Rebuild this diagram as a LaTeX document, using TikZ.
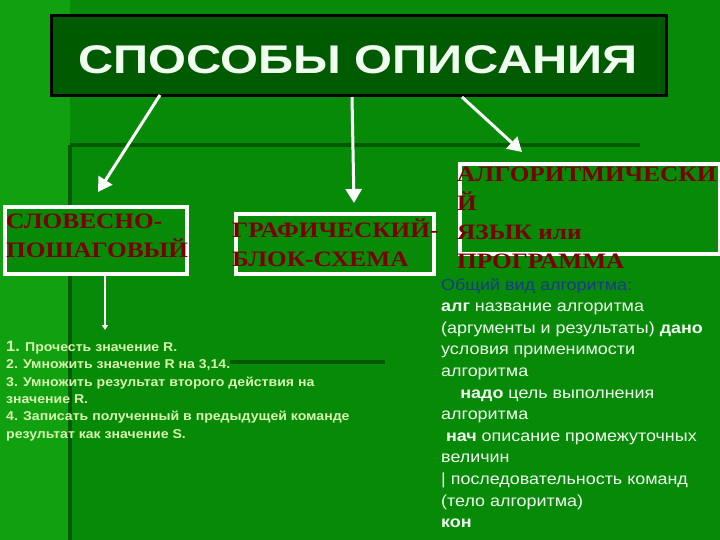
\documentclass[tikz,border=0pt]{standalone}
\usepackage{fontspec}
\setmainfont{Liberation Sans}
\newfontfamily\serifru[FakeStretch=1.15]{Liberation Serif}
\newfontfamily\wideru[FakeStretch=1.22]{Liberation Sans}
\newfontfamily\lsans[FakeStretch=1.1]{Liberation Sans}
\newfontfamily\rsans[FakeStretch=1.12]{Liberation Sans}
\usetikzlibrary{arrows.meta}
\definecolor{bg}{HTML}{078A07}
\definecolor{bgl}{HTML}{10A010}
\definecolor{dk}{HTML}{005A00}
\definecolor{red}{HTML}{7A0000}
\definecolor{lt}{HTML}{D8F5B0}
\definecolor{wt}{HTML}{F0FFF0}
\definecolor{bl}{HTML}{1A3A8A}
\tikzset{
 wbox/.style={draw=white,line width=4pt,fill=bg,inner sep=0pt},
 btxt/.style={text=red,font=\serifru\bfseries\fontsize{22}{29}\selectfont,align=left,anchor=north west,inner sep=0pt},
 warr/.style={draw=white,line width=3pt,-{Triangle[length=14pt,width=16pt]}},
 ltxt/.style={text=lt,font=\lsans\bfseries\fontsize{12.8}{17.3}\selectfont,align=left,anchor=north west,inner sep=0pt},
 rtxt/.style={text=wt,font=\rsans\fontsize{16}{21.6}\selectfont,align=left,anchor=north west,inner sep=0pt},
 dline/.style={draw=dk,line width=4pt}
}
\begin{document}
\begin{tikzpicture}[x=1pt,y=-1pt]
\useasboundingbox (0,0) rectangle (720,540);
\fill[bg] (0,0) rectangle (720,540);
\fill[bgl] (0,0) rectangle (70,540);
\draw[dline] (70,145) -- (640,145);
\draw[dline] (70,145) -- (70,540);
\draw[dline] (230,362) -- (385,362);
% title
\node[draw=black,line width=3pt,fill=dk,minimum width=615pt,minimum height=80pt,anchor=north west] (title) at (50,14) {};
\node[text=wt,font=\wideru\bfseries\fontsize{40}{44}\selectfont] (tt) at (358,60) {СПОСОБЫ ОПИСАНИЯ};
% boxes
\node[wbox,minimum width=182pt,minimum height=67pt,anchor=north west] (b1) at (3,205) {};
\node[btxt] at (6,214) {СЛОВЕСНО-\\ПОШАГОВЫЙ};
\node[wbox,minimum width=198pt,minimum height=60pt,anchor=north west] (b2) at (234,212) {};
\node[btxt] at (232,219) {ГРАФИЧЕСКИЙ-\\БЛОК-СХЕМА};
\node[wbox,minimum width=260pt,minimum height=90pt,anchor=north west] (b3) at (458,162) {};
\node[btxt] at (457,167) {АЛГОРИТМИЧЕСКИ\\Й\\ЯЗЫК или\\ПРОГРАММА};
% arrows
\coordinate (a1s) at (160,95); \coordinate (a1e) at (98,192);
\coordinate (a2s) at (352,97); \coordinate (a2e) at (354,203);
\coordinate (a3s) at (462,97); \coordinate (a3e) at (522,152);
\draw[warr] (a1s) -- (a1e);
\draw[warr] (a2s) -- (a2e);
\draw[warr] (a3s) -- (a3e);
\coordinate (d1) at (105,275); \coordinate (d2) at (105,330);
\draw[white,line width=1.5pt,-{Triangle[length=5pt,width=6pt]}] (d1) -- (d2);
% left text
\node[ltxt] (lt) at (6,341) {{\fontsize{15}{17}\selectfont 1.} Прочесть значение R.\\2. Умножить значение R на 3,14.\\3. Умножить результат второго действия на\\значение R.\\4. Записать полученный в предыдущей команде\\результат как значение S.};
% right text
\node[rtxt] (rt) at (441,278) {\textcolor{bl}{Общий вид алгоритма:}\\\textbf{алг} название алгоритма\\(аргументы и результаты) \textbf{дано}\\условия применимости\\алгоритма\\\hspace*{1.2em}\textbf{надо} цель выполнения\\алгоритма\\\hspace*{0.3em}\textbf{нач} описание промежуточных\\величин\\| последовательность команд\\(тело алгоритма)\\\textbf{кон}};
\end{tikzpicture}
\end{document}
